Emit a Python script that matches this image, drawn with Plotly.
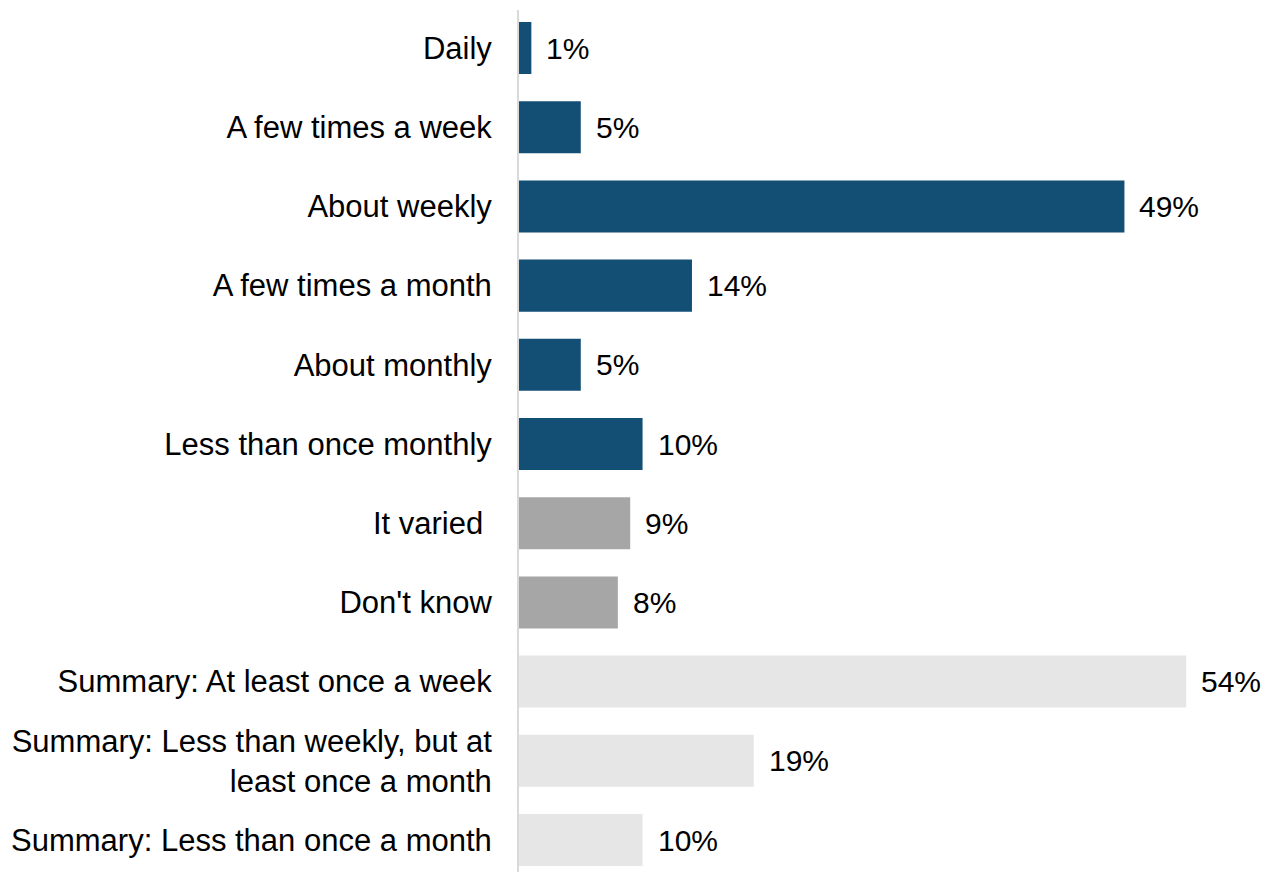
import plotly.graph_objects as go

# Survey categories, top to bottom
categories = [
    "Daily",
    "A few times a week",
    "About weekly",
    "A few times a month",
    "About monthly",
    "Less than once monthly",
    "It varied ",
    "Don't know",
    "Summary: At least once a week",
    "Summary: Less than weekly, but at<br>least once a month",
    "Summary: Less than once a month",
]
values = [1, 5, 49, 14, 5, 10, 9, 8, 54, 19, 10]
groups = ["freq"] * 6 + ["other"] * 2 + ["summary"] * 3

group_colors = {"freq": "#134f75", "other": "#a6a6a6", "summary": "#e7e6e6"}
bar_colors = [group_colors[g] for g in groups]

FONT = "Liberation Sans, Arial, sans-serif"
LABEL_SIZE = 31
VALUE_SIZE = 30

fig = go.Figure(
    go.Bar(
        x=values,
        y=categories,
        orientation="h",
        marker=dict(color=bar_colors, line=dict(width=0)),
        hoverinfo="skip",
    )
)

# Value labels just past the end of each bar
for cat, v in zip(categories, values):
    fig.add_annotation(
        x=v, y=cat, text=f"{v}%", showarrow=False,
        xanchor="left", yanchor="middle", xshift=13,
        font=dict(family=FONT, size=VALUE_SIZE, color="#000000"),
    )

fig.update_layout(
    width=1269, height=872,
    margin=dict(l=519, r=0, t=10, b=0, pad=0),
    paper_bgcolor="white", plot_bgcolor="white",
    bargap=0.343,
    showlegend=False,
    font=dict(family=FONT, size=VALUE_SIZE, color="#000000"),
    xaxis=dict(
        range=[0, 60.7], visible=False, showgrid=False, zeroline=False,
    ),
    yaxis=dict(
        type="category",
        categoryorder="array", categoryarray=categories,
        range=[10.404, -0.48],
        showline=True, linecolor="#d9d9d9", linewidth=2,
        showgrid=False, zeroline=False, ticks="",
        ticklabelstandoff=19,
        tickfont=dict(family=FONT, size=LABEL_SIZE, color="#000000"),
    ),
)

fig.write_html("out.html")
